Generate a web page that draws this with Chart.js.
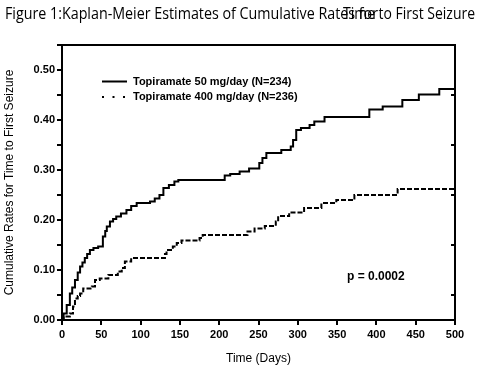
<!DOCTYPE html>
<html>
<head>
<meta charset="utf-8">
<script src="https://cdn.jsdelivr.net/npm/chart.js@4"></script>
<style>
  html, body { margin: 0; padding: 0; background: #fff; }
  #wrap { width: 480px; height: 370px; position: relative; }
</style>
</head>
<body>
<div id="wrap"><canvas id="kmChart"></canvas></div>
<script>
// Kaplan-Meier step points (time in days, cumulative rate)
const days50 = [0, 2, 6, 10, 13, 16.5, 20, 23, 26, 29, 32, 35.5, 40, 46, 52, 55, 57, 61, 65, 69, 75, 82, 88, 95, 112, 118, 124, 129, 136, 143, 148, 207, 214, 226, 238, 251, 255, 260, 279, 291, 294, 298, 304, 315, 321, 334, 391, 408, 433, 454, 480, 500];
const rates50 = [0, 0.013, 0.03, 0.053, 0.065, 0.08, 0.095, 0.107, 0.115, 0.124, 0.132, 0.14, 0.144, 0.147, 0.167, 0.178, 0.187, 0.197, 0.202, 0.207, 0.213, 0.22, 0.228, 0.234, 0.237, 0.243, 0.25, 0.264, 0.27, 0.277, 0.28, 0.289, 0.292, 0.297, 0.303, 0.314, 0.324, 0.334, 0.34, 0.347, 0.36, 0.38, 0.384, 0.39, 0.397, 0.406, 0.421, 0.427, 0.44, 0.451, 0.462, 0.462];

const days400 = [0, 2, 10, 14, 16.5, 20, 23, 27, 38, 42, 48, 59, 71, 76, 80, 88, 131, 133, 141, 146, 152, 175, 179, 236, 245, 258, 272, 275, 289, 308, 330, 349, 372, 427, 500];
const rates400 = [0, 0.007, 0.013, 0.027, 0.043, 0.048, 0.053, 0.063, 0.067, 0.08, 0.083, 0.09, 0.097, 0.104, 0.117, 0.124, 0.132, 0.14, 0.147, 0.154, 0.159, 0.164, 0.17, 0.177, 0.183, 0.188, 0.197, 0.208, 0.215, 0.224, 0.234, 0.24, 0.25, 0.262, 0.262];

const seriesNames = ['Topiramate 50 mg/day (N=234)', 'Topiramate 400 mg/day (N=236)'];
const titleStart = 'Figure 1:Kaplan-Meier Estimates of Cumulative Rates for';
const titleEnd = 'Time to First Seizure';
const pValueText = 'p = 0.0002';

const FONT = "'Liberation Sans', Arial, Helvetica, sans-serif";

function toPoints(xs, ys) {
    return xs.map((x, i) => ({ x: x, y: ys[i] }));
}

// draws the figure title, the box, right-side ticks, legend and p value
const decorPlugin = {
    id: 'decor',
    afterDraw(chart) {
        const ctx = chart.ctx;
        const area = chart.chartArea;
        const yScale = chart.scales.y;
        ctx.save();

        // title (the two pieces overlap, as in the original figure)
        ctx.fillStyle = '#000';
        ctx.font = "16px 'Open Sans', 'Noto Sans', sans-serif";
        ctx.textBaseline = 'alphabetic';
        drawFitted(ctx, titleStart, 5, 19, 373);
        drawFitted(ctx, titleEnd, 343, 19, 132);

        // top and right border
        ctx.strokeStyle = '#000';
        ctx.lineWidth = 2;
        ctx.beginPath();
        ctx.moveTo(area.left - 5, area.top);
        ctx.lineTo(area.right, area.top);
        ctx.lineTo(area.right, area.bottom);
        ctx.stroke();

        // inward ticks on the right edge
        [0.05, 0.15, 0.25, 0.35, 0.45].forEach(v => {
            const py = Math.round(yScale.getPixelForValue(v));
            ctx.beginPath();
            ctx.moveTo(area.right, py);
            ctx.lineTo(area.right - 4, py);
            ctx.stroke();
        });

        // legend
        ctx.font = 'bold 11px ' + FONT;
        ctx.textBaseline = 'middle';
        ctx.lineWidth = 2;
        ctx.beginPath();
        ctx.moveTo(102, 81.5);
        ctx.lineTo(127, 81.5);
        ctx.stroke();
        ctx.fillText(seriesNames[0], 133, 82);
        [103, 113.5, 124].forEach(x => ctx.fillRect(x - 1, 96, 2, 2));
        ctx.fillText(seriesNames[1], 133, 97);

        // p value
        ctx.font = 'bold 12px ' + FONT;
        ctx.fillText(pValueText, 347, 277);

        ctx.restore();
    }
};

function drawFitted(ctx, text, x, y, width) {
    const w = ctx.measureText(text).width;
    ctx.save();
    ctx.translate(x, y);
    ctx.scale(width / w, 1);
    ctx.fillText(text, 0, 0);
    ctx.restore();
}

function drawKmChart() {
    const ctx = document.getElementById('kmChart').getContext('2d');

    new Chart(ctx, {
        type: 'line',
        data: {
            datasets: [{
                label: seriesNames[0],
                data: toPoints(days50, rates50),
                borderColor: '#000',
                borderWidth: 2,
                pointRadius: 0,
                stepped: true,
                fill: false
            }, {
                label: seriesNames[1],
                data: toPoints(days400, rates400),
                borderColor: '#000',
                borderWidth: 2,
                borderDash: [5, 2],
                pointRadius: 0,
                stepped: true,
                fill: false
            }]
        },
        options: {
            responsive: false,
            animation: false,
            layout: {
                padding: { left: 0, top: 45, right: 25, bottom: 0 }
            },
            plugins: {
                legend: { display: false },
                tooltip: { enabled: false }
            },
            scales: {
                x: {
                    type: 'linear',
                    min: 0,
                    max: 500,
                    afterFit: scale => { scale.height = 50; },
                    ticks: {
                        stepSize: 50,
                        color: '#000',
                        padding: 3,
                        maxRotation: 0,
                        font: { family: FONT, size: 11, weight: 'bold' }
                    },
                    grid: {
                        drawOnChartArea: false,
                        drawTicks: true,
                        tickLength: 5,
                        color: '#000',
                        lineWidth: 2
                    },
                    border: { color: '#000', width: 2 },
                    title: {
                        display: true,
                        text: 'Time (Days)',
                        color: '#000',
                        padding: { top: 6, bottom: 4 },
                        font: { family: FONT, size: 12 }
                    }
                },
                y: {
                    type: 'linear',
                    min: 0,
                    max: 0.55,
                    afterFit: scale => { scale.width = 62; },
                    ticks: {
                        stepSize: 0.05,
                        color: '#000',
                        padding: 2,
                        font: { family: FONT, size: 11, weight: 'bold' },
                        callback: function (value, index) {
                            return index % 2 === 0 ? value.toFixed(2) : '';
                        }
                    },
                    grid: {
                        drawOnChartArea: false,
                        drawTicks: true,
                        tickLength: 5,
                        color: '#000',
                        lineWidth: 2
                    },
                    border: { color: '#000', width: 2 },
                    title: {
                        display: true,
                        text: 'Cumulative Rates for Time to First Seizure',
                        color: '#000',
                        padding: { top: 2, bottom: 2 },
                        font: { family: FONT, size: 12 }
                    }
                }
            }
        },
        plugins: [decorPlugin]
    });
}

document.getElementById('kmChart').width = 480;
document.getElementById('kmChart').height = 370;
drawKmChart();
</script>
</body>
</html>
